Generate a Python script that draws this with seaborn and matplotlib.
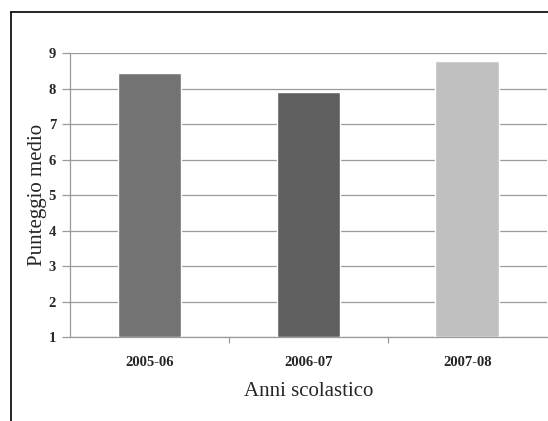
import pandas as pd
import matplotlib.pyplot as plt
import seaborn as sns
from matplotlib.lines import Line2D

sns.set_style("white")
plt.rcParams["font.family"] = ["Liberation Serif", "DejaVu Serif"]

# dati
anni = ["2005-06", "2006-07", "2007-08"]
punteggio = [8.44, 7.9, 8.78]
colori = ["#737373", "#5f5f5f", "#c0c0c0"]

df = pd.DataFrame({"anno": anni, "punteggio": punteggio})

fig = plt.figure(figsize=(5.48, 4.21), dpi=100)
ax = fig.add_axes([0.1277, 0.1995, 0.870, 0.6745])

sns.barplot(
    data=df,
    x="anno",
    y="punteggio",
    hue="anno",
    palette=colori,
    width=0.4,
    legend=False,
    ax=ax,
    saturation=1,
    zorder=3,
)
# barre partono da 1
for p, v in zip(ax.patches, punteggio):
    p.set_y(1)
    p.set_height(v - 1)

ax.set_ylim(1, 9)
ax.set_xlim(-0.5, 2.5)
ax.set_yticks(range(1, 10))
ax.set_xticks([0.5, 1.5], minor=True)
ax.yaxis.grid(True, color="#9a9a9a", linewidth=0.9, zorder=0)

for lab in ax.get_yticklabels() + ax.get_xticklabels():
    lab.set_fontweight("bold")
    lab.set_fontsize(10.5)

ax.tick_params(axis="y", length=6, color="#9a9a9a", width=0.9, pad=4, left=True)
ax.tick_params(axis="x", which="major", length=0, pad=14)
ax.tick_params(axis="x", which="minor", length=4, color="#9a9a9a", width=0.9, bottom=True)

for s in ["top", "right"]:
    ax.spines[s].set_visible(False)
ax.spines["left"].set_color("#9a9a9a")
ax.spines["bottom"].set_color("#9a9a9a")
ax.spines["left"].set_linewidth(0.9)
ax.spines["bottom"].set_linewidth(0.9)

ax.set_xlabel("Anni scolastico", fontsize=15, labelpad=9)
ax.set_ylabel("Punteggio medio", fontsize=15, labelpad=1)

# cornice esterna
fig.add_artist(Line2D([11 / 548, 11 / 548], [0, 1 - 12 / 421], color="black", linewidth=1.2))
fig.add_artist(Line2D([11 / 548, 1], [1 - 12 / 421, 1 - 12 / 421], color="black", linewidth=1.2))

fig.savefig("out.png", dpi=100)
